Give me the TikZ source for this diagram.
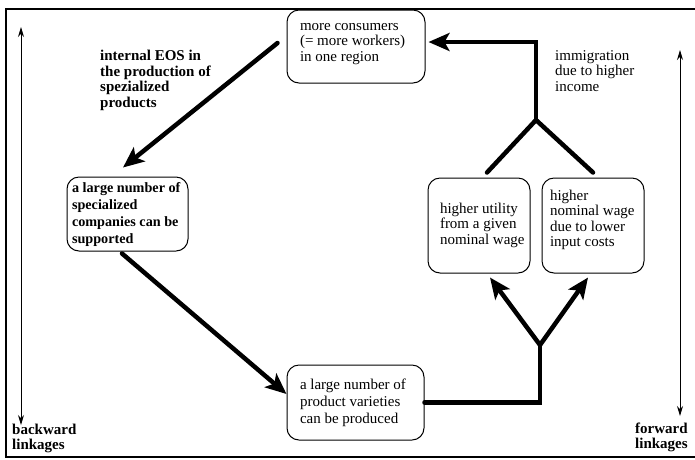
\documentclass[tikz,border=0pt]{standalone}
\usepackage{fontspec}
\setmainfont{Liberation Serif}
\usetikzlibrary{arrows.meta}
\newcommand\diagfont{\fontsize{15}{15.5}\selectfont}
\newcommand\widefont{\fontsize{15}{17}\selectfont}
\newcommand\tightfont{\fontsize{15}{14.5}\selectfont}
\newcommand\boldboxfont{\fontsize{14.2}{17}\selectfont\bfseries}
\newcommand\tline[1]{\mbox{#1}}
\newcommand\boxtext[3]{\parbox[c][#2][t]{#1}{\raggedright #3}}
\begin{document}
\begin{tikzpicture}[x=1pt,y=-1pt,
  box/.style={draw, line width=1pt, rounded corners=12pt, font=\diagfont},
  lbl/.style={align=left, inner sep=0pt, anchor=north west, font=\diagfont},
  bigarrow/.style={line width=4.5pt, line cap=round, -{Stealth[length=21pt,width=18pt,inset=5pt]}},
  bigline/.style={line width=4.5pt, line cap=round, line join=miter},
  thinarrow/.style={line width=0.9pt, {Stealth[length=10pt,width=6pt]}-{Stealth[length=10pt,width=6pt]}},
  frame/.style={line width=1.5pt}]
\useasboundingbox (0,0) rectangle (695,459);
% frame
\draw[frame] (695,9) -- (6,9) -- (6,457) -- (695,457);

% boxes
\node[box, inner xsep=13pt, inner ysep=13pt] (top) at (356,46.5)
  {\boxtext{112pt}{47pt}{\tline{more consumers}\\\tline{(= more workers)}\\\tline{in one region}}};
\node[box, inner xsep=5pt, inner ysep=5pt, font=\boldboxfont] (left) at (127.5,214)
  {\boxtext{111pt}{64pt}{\tline{a large number of}\\\tline{specialized}\\\tline{companies can be}\\\tline{supported}}};
\node[box, inner xsep=13pt, inner ysep=14pt, font=\widefont] (bottom) at (355.5,402.5)
  {\boxtext{111pt}{47pt}{\tline{a large number of}\\\tline{product varieties}\\\tline{can be produced}}};
\node[box, inner xsep=12pt, inner ysep=25pt] (util) at (479,225.5)
  {\boxtext{78pt}{45pt}{\tline{higher utility}\\\tline{from a given}\\\tline{nominal wage}}};
\node[box, inner xsep=8pt, inner ysep=12pt] (right) at (593,225.5)
  {\boxtext{86pt}{71pt}{\tline{higher}\\\tline{nominal wage}\\\tline{due to lower}\\\tline{input costs}}};

% labels
\node[lbl, font=\diagfont\bfseries] (eos) at (100,50) {\tline{internal EOS in}\\\tline{the production of}\\\tline{spezialized}\\\tline{products}};
\node[lbl] (immi) at (555,50) {\tline{immigration}\\\tline{due to higher}\\\tline{income}};
\node[lbl, font=\tightfont\bfseries] (back) at (12,424) {\tline{backward}\\\tline{linkages}};
\node[lbl, font=\tightfont\bfseries] (fwd) at (635,423) {\tline{forward}\\\tline{linkages}};

% junctions
\coordinate (jB) at (540,345);
\coordinate (jT) at (536,120);

% big arrows
\draw[bigarrow] ([shift={(-9,-3.5)}]top.west) -- ([shift={(-4.5,-9)}]left.north);
\draw[bigarrow] ([shift={(-5.5,2)}]left.south) -- ([shift={(0,-8.5)}]bottom.west);
\draw[bigline] (bottom.east) -| (jB);
\draw[bigarrow] (jB) -- ([shift={(11,4)}]util.south);
\draw[bigarrow] (jB) -- ([shift={(-5,4)}]right.south);
\draw[bigline] ([shift={(8,-5)}]util.north) -- (jT);
\draw[bigline] ([shift={(0,-5)}]right.north) -- (jT);
\draw[bigarrow, line join=miter] (jT) |- ([shift={(3,-4.5)}]top.east);

% linkage arrows
\coordinate (bl1) at (21,27);
\coordinate (bl2) at (21,425);
\coordinate (fl1) at (680,50);
\coordinate (fl2) at (680,416);
\draw[thinarrow] (bl1) -- (bl2);
\draw[thinarrow] (fl1) -- (fl2);
\end{tikzpicture}
\end{document}
